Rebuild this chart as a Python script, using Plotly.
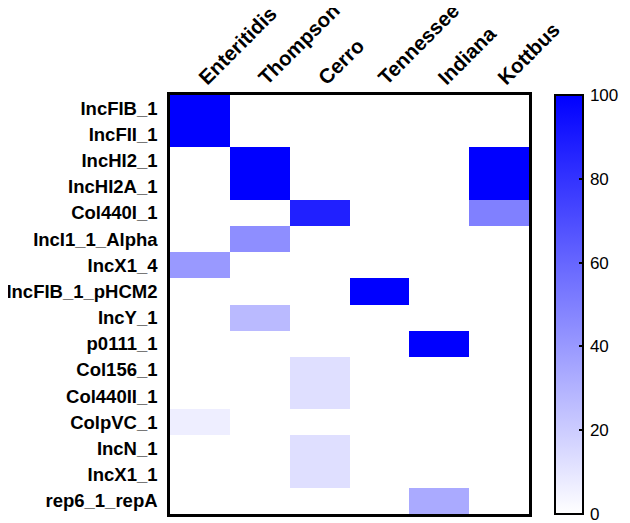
import plotly.graph_objects as go

serovars = ["Enteritidis", "Thompson", "Cerro", "Tennessee", "Indiana", "Kottbus"]
replicons = ["IncFIB_1", "IncFII_1", "IncHI2_1", "IncHI2A_1", "Col440I_1", "IncI1_1_Alpha",
             "IncX1_4", "IncFIB_1_pHCM2", "IncY_1", "p0111_1", "Col156_1", "Col440II_1",
             "ColpVC_1", "IncN_1", "IncX1_1", "rep6_1_repA"]

enteritidis = [100, 100, 0, 0, 0, 0, 40, 0, 0, 0, 0, 0, 6.7, 0, 0, 0]
thompson    = [0, 0, 100, 100, 0, 44.4, 0, 0, 27, 0, 0, 0, 0, 0, 0, 0]
cerro       = [0, 0, 0, 0, 87.5, 0, 0, 0, 0, 0, 12.5, 12.5, 0, 12.5, 12.5, 0]
tennessee   = [0, 0, 0, 0, 0, 0, 0, 100, 0, 0, 0, 0, 0, 0, 0, 0]
indiana     = [0, 0, 0, 0, 0, 0, 0, 0, 0, 100, 0, 0, 0, 0, 0, 33.3]
kottbus     = [0, 0, 100, 100, 50, 0, 0, 0, 0, 0, 0, 0, 0, 0, 0, 0]
cbar_ticks = [0, 20, 40, 60, 80, 100]

cols = [enteritidis, thompson, cerro, tennessee, indiana, kottbus]
z = [[c[i] for c in cols] for i in range(len(replicons))]

scale = [[0, "#ffffff"], [1, "#0000ff"]]
cb_common = dict(xref="container", x=0.880, xanchor="left", xpad=0,
                 yref="paper", y=0.5, yanchor="middle", len=1.0,
                 lenmode="fraction", ypad=0, thickness=28, outlinecolor="black", outlinewidth=2,
                 tickvals=cbar_ticks)

fig = go.Figure()
# main heatmap with labelled colorbar
fig.add_trace(go.Heatmap(
    z=z, x=serovars, y=replicons, zmin=0, zmax=100, colorscale=scale,
    colorbar=dict(**cb_common, ticks="outside", ticklen=3, tickcolor="rgba(0,0,0,0)",
                  ticklabeloverflow="allow",
                  tickfont=dict(family="Liberation Sans, Arial", size=17, color="black")),
))
# same data again, only to draw the inside tick marks on the colorbar
fig.add_trace(go.Heatmap(
    z=z, x=serovars, y=replicons, zmin=0, zmax=100, colorscale=scale, hoverinfo="skip",
    colorbar=dict(**cb_common, ticks="inside", ticklen=5, tickwidth=2, tickcolor="black",
                  showticklabels=False),
))

fig.update_layout(
    width=622, height=515,
    margin=dict(l=162, r=101, t=87, b=9),
    paper_bgcolor="white", plot_bgcolor="white",
    font=dict(family="Liberation Sans, Arial", color="black"),
)
fig.update_xaxes(side="top", tickangle=-45, showline=True, linecolor="black", linewidth=2.5,
                 mirror=True, ticks="", showgrid=False, zeroline=False, automargin=False,
                 ticklabelstandoff=-5, ticklabeloverflow="allow",
                 tickfont=dict(family="Liberation Sans, Arial", size=20.5, color="black", weight="bold"))
fig.update_yaxes(autorange="reversed", showline=True, linecolor="black", linewidth=2.5,
                 mirror=True, ticks="", showgrid=False, zeroline=False, automargin=False,
                 ticklabelstandoff=6, ticklabeloverflow="allow",
                 tickfont=dict(family="Liberation Sans, Arial", size=18.5, color="black", weight="bold"))

fig.write_html("out.html")
